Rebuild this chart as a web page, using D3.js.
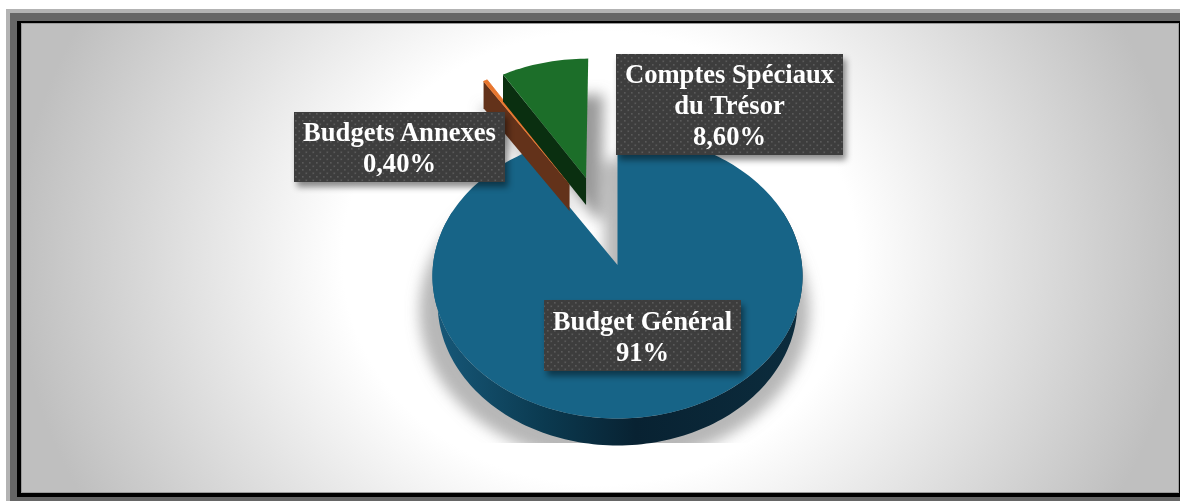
<!DOCTYPE html>
<html lang="fr">
<head>
  <meta charset="UTF-8">
  <title>Budget de l'Etat</title>
  <script src="https://d3js.org/d3.v7.min.js"></script>
  <style>
    html, body { margin: 0; padding: 0; background: #fff; }
    svg { display: block; }
    .lbl text { font-family: "Liberation Serif", serif; font-weight: bold; font-size: 26.6px; fill: #fff; text-anchor: middle; }
  </style>
</head>
<body>
<svg width="1180" height="501"></svg>
<script>
  const categories = ["Budget Général", "Budgets Annexes", "Comptes Spéciaux du Trésor"];
  const values = [91, 0.4, 8.6];
  const valueLabels = ["91%", "0,40%", "8,60%"];
  const labelLines = [["Budget Général"], ["Budgets Annexes"], ["Comptes Spéciaux", "du Trésor"]];

  const topColors = ["#176487", "#e8762e", "#1c6e29"];
  const sideColors = ["#0b2a3b", "#63321a", "#0a2f10"];

  // pie is tilted, so disk coordinates go through a small perspective
  const cx = 617.5, cy = 265, rx = 184.5, ry = 141.5, persp = 0.078, depth = 27;
  const bottomScale = 0.972; // lower rim of the wall looks a bit narrower than the top one
  // how far each slice is pulled out of the disk (u, v in disk radius units)
  const explode = [[0, 0], [-0.272, 0.6], [-0.179, 0.646]];
  const boxes = [
    { x: 544, y: 300, w: 197, h: 71 },
    { x: 294, y: 112, w: 211, h: 70 },
    { x: 616, y: 54, w: 227, h: 101 }
  ];
  // shadow offset, spread and strength per slice
  const shadowShift = [[-3, 8], [0, 2], [12, 12]];
  const shadowSpread = [20, 5, 6];
  const shadowOpacity = [0.6, 0.7, 0.85];

  const svg = d3.select("svg");
  const defs = svg.append("defs");

  const bg = defs.append("radialGradient").attr("id", "bg")
    .attr("gradientUnits", "userSpaceOnUse")
    .attr("cx", 600).attr("cy", 258).attr("r", 585)
    .attr("gradientTransform", "translate(600 258) scale(1 0.88) translate(-600 -258)");
  bg.append("stop").attr("offset", "0.44").attr("stop-color", "#ffffff");
  bg.append("stop").attr("offset", "1").attr("stop-color", "#bfbfbf");

  const wall = defs.append("linearGradient").attr("id", "wall")
    .attr("gradientUnits", "userSpaceOnUse")
    .attr("x1", cx - rx).attr("x2", cx + rx).attr("y1", 0).attr("y2", 0);
  wall.append("stop").attr("offset", "0").attr("stop-color", "#17597a");
  wall.append("stop").attr("offset", "0.3").attr("stop-color", "#0b3a50");
  wall.append("stop").attr("offset", "0.55").attr("stop-color", "#082232");
  wall.append("stop").attr("offset", "1").attr("stop-color", "#0c2c3d");

  defs.append("filter").attr("id", "blur").attr("x", "-30%").attr("y", "-30%").attr("width", "160%").attr("height", "160%")
    .append("feGaussianBlur").attr("stdDeviation", 7);
  const boxShadow = defs.append("filter").attr("id", "boxShadow").attr("x", "-10%").attr("y", "-10%").attr("width", "125%").attr("height", "130%");
  boxShadow.append("feDropShadow").attr("dx", 3).attr("dy", 5).attr("stdDeviation", 3)
    .attr("flood-color", "#000").attr("flood-opacity", 0.45);

  const dots = defs.append("pattern").attr("id", "dots").attr("patternUnits", "userSpaceOnUse")
    .attr("width", 7).attr("height", 7);
  dots.append("rect").attr("width", 7).attr("height", 7).attr("fill", "#3e3d3d");
  dots.append("rect").attr("x", 1).attr("y", 1).attr("width", 1.6).attr("height", 1.6).attr("fill", "#5a5a5a");
  dots.append("rect").attr("x", 4.5).attr("y", 4.5).attr("width", 1.6).attr("height", 1.6).attr("fill", "#5a5a5a");

  defs.append("clipPath").attr("id", "plot").append("rect")
    .attr("x", 21).attr("y", 23).attr("width", 1158).attr("height", 420);

  // frame
  svg.append("rect").attr("x", 6).attr("y", 9).attr("width", 1174).attr("height", 492).attr("fill", "#b3b3b3");
  svg.append("rect").attr("x", 10).attr("y", 13).attr("width", 1170).attr("height", 488).attr("fill", "#666");
  svg.append("rect").attr("x", 17).attr("y", 21).attr("width", 1163).attr("height", 476).attr("fill", "#000");
  svg.append("rect").attr("x", 21).attr("y", 23).attr("width", 1158).attr("height", 470).attr("fill", "url(#bg)");
  svg.append("rect").attr("x", 21.5).attr("y", 23.5).attr("width", 1157).attr("height", 469)
    .attr("fill", "none").attr("stroke", "#9a9a9a");

  const pie = d3.pie().sort(null).value(d => d);
  const arcs = pie(values);

  // disk point -> screen point
  function project(u, v, down, k) {
    const w = 1 + persp * v;
    return [cx + (k || 1) * rx * u / w, cy - ry * v / w + (down || 0)];
  }
  function rim(a, i, down, k) {
    return project(explode[i][0] + Math.sin(a), explode[i][1] + Math.cos(a), down, k);
  }
  function hub(i, down) {
    return project(explode[i][0], explode[i][1], down);
  }
  function arcPoints(a0, a1, i, down, k) {
    const n = Math.max(2, Math.ceil((a1 - a0) * 40));
    return d3.range(n + 1).map(j => rim(a0 + (a1 - a0) * j / n, i, down, k));
  }
  const line = d3.line();

  // soft shadow behind the slices
  const shadow = svg.append("g").attr("clip-path", "url(#plot)").append("g").attr("filter", "url(#blur)");
  arcs.forEach((d, i) => {
    const pts = [hub(i, depth)].concat(arcPoints(d.startAngle, d.endAngle, i, depth));
    shadow.append("path")
      .attr("d", line(pts) + "Z")
      .attr("transform", `translate(${shadowShift[i][0]},${shadowShift[i][1]})`)
      .attr("fill", "#888").attr("stroke", "#888").attr("stroke-width", shadowSpread[i])
      .attr("stroke-linejoin", "round").attr("opacity", shadowOpacity[i]);
  });

  const pieG = svg.append("g");

  arcs.forEach((d, i) => {
    // outer wall, only the part turned to the viewer
    const a0 = Math.max(d.startAngle, Math.PI / 2 - 0.4), a1 = Math.min(d.endAngle, 3 * Math.PI / 2 + 0.4);
    if (a1 > a0) {
      const upper = arcPoints(a0, a1, i, 0), lower = arcPoints(a0, a1, i, depth, bottomScale).reverse();
      pieG.append("path").attr("d", line(upper.concat(lower)) + "Z").attr("fill", "url(#wall)");
    }
    // cut face on the start side of the pulled out slices
    if (i > 0) {
      const face = [hub(i, 0), rim(d.startAngle, i, 0), rim(d.startAngle, i, depth), hub(i, depth)];
      pieG.append("path").attr("d", line(face) + "Z").attr("fill", sideColors[i]);
    }
    const top = [hub(i, 0)].concat(arcPoints(d.startAngle, d.endAngle, i, 0));
    pieG.append("path").attr("d", line(top) + "Z").attr("fill", topColors[i])
      .attr("stroke", topColors[i]).attr("stroke-width", i === 1 ? 0.8 : 0);
  });

  // data labels
  const lbl = svg.selectAll("g.lbl").data(categories).enter().append("g").attr("class", "lbl");
  lbl.append("rect")
    .attr("x", (d, i) => boxes[i].x).attr("y", (d, i) => boxes[i].y)
    .attr("width", (d, i) => boxes[i].w).attr("height", (d, i) => boxes[i].h)
    .attr("fill", "url(#dots)").attr("filter", "url(#boxShadow)");
  lbl.each(function (d, i) {
    const rows = labelLines[i].concat(valueLabels[i]);
    const b = boxes[i];
    d3.select(this).selectAll("text").data(rows).enter().append("text")
      .attr("x", b.x + b.w / 2)
      .attr("y", (r, k) => b.y + b.h / 2 - (rows.length - 1) * 15.5 + k * 31 + 9.5)
      .text(r => r);
  });
</script>
</body>
</html>
